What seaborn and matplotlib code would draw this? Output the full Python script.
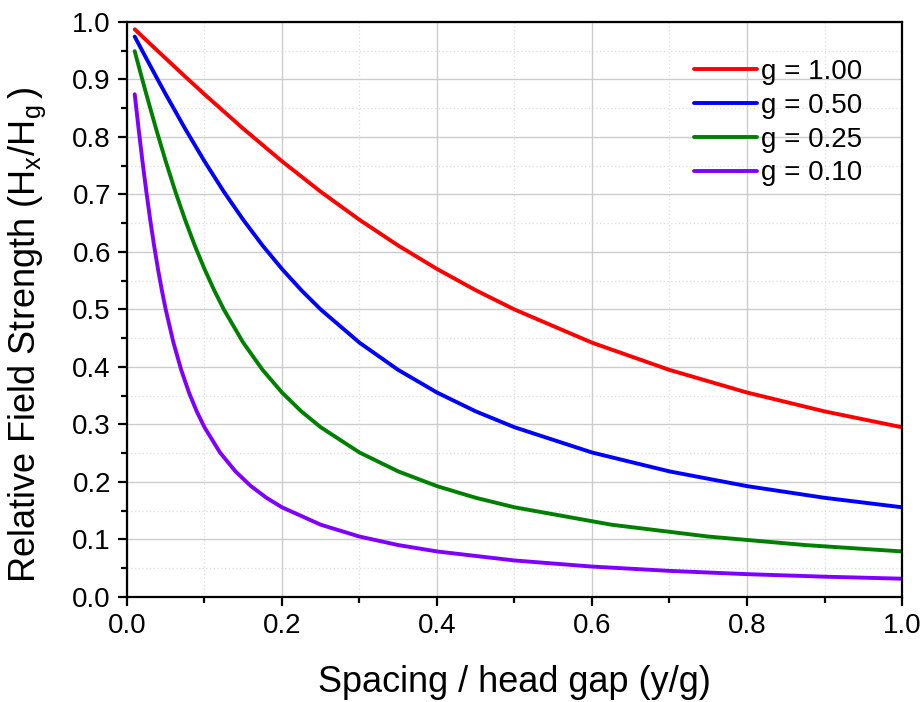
import numpy as np
import pandas as pd
import matplotlib
matplotlib.use("Agg")
import matplotlib.pyplot as plt
from matplotlib.ticker import MultipleLocator, FormatStrFormatter
import seaborn as sns

# Values: spacing / head gap (y/g) and relative field strength
x_g100 = [0.01, 0.02, 0.04, 0.06, 0.08, 0.10, 0.15, 0.20, 0.25, 0.30, 0.35, 0.40,
          0.45, 0.50, 0.60, 0.70, 0.80, 0.90, 1.00]
y_g100 = [0.9873, 0.9746, 0.9492, 0.9240, 0.8990, 0.8743, 0.8145, 0.7578, 0.7048,
          0.6560, 0.6112, 0.5705, 0.5335, 0.5000, 0.4423, 0.3949, 0.3556, 0.3228, 0.2952]

x_g050 = [0.01, 0.02, 0.03, 0.04, 0.05, 0.075, 0.10, 0.125, 0.15, 0.175, 0.20, 0.225,
          0.25, 0.30, 0.35, 0.40, 0.45, 0.50, 0.60, 0.70, 0.80, 0.90, 1.00]
y_g050 = [0.9746, 0.9492, 0.9240, 0.8990, 0.8743, 0.8145, 0.7578, 0.7048, 0.6560,
          0.6112, 0.5705, 0.5335, 0.5000, 0.4423, 0.3949, 0.3556, 0.3228, 0.2952,
          0.2513, 0.2184, 0.1928, 0.1725, 0.1560]

x_g025 = [0.01, 0.015, 0.02, 0.025, 0.0375, 0.05, 0.0625, 0.075, 0.0875, 0.10, 0.1125,
          0.125, 0.15, 0.175, 0.20, 0.225, 0.25, 0.30, 0.35, 0.40, 0.45, 0.50, 0.625,
          0.75, 0.875, 1.00]
y_g025 = [0.9492, 0.9240, 0.8990, 0.8743, 0.8145, 0.7578, 0.7048, 0.6560, 0.6112,
          0.5705, 0.5335, 0.5000, 0.4423, 0.3949, 0.3556, 0.3228, 0.2952, 0.2513,
          0.2184, 0.1928, 0.1725, 0.1560, 0.1257, 0.1051, 0.0903, 0.0792]

x_g010 = [0.01, 0.015, 0.02, 0.025, 0.03, 0.035, 0.04, 0.045, 0.05, 0.06, 0.07, 0.08,
          0.09, 0.10, 0.12, 0.14, 0.16, 0.18, 0.20, 0.25, 0.30, 0.35, 0.40, 0.50,
          0.60, 0.70, 0.80, 0.90, 1.00]
y_g010 = [0.8743, 0.8145, 0.7578, 0.7048, 0.6560, 0.6112, 0.5705, 0.5335, 0.5000,
          0.4423, 0.3949, 0.3556, 0.3228, 0.2952, 0.2513, 0.2184, 0.1928, 0.1725,
          0.1560, 0.1257, 0.1051, 0.0903, 0.0792, 0.0635, 0.0529, 0.0454, 0.0397,
          0.0353, 0.0318]

labels = ["g = 1.00", "g = 0.50", "g = 0.25", "g = 0.10"]
colors = ["#FF0000", "#0000FF", "#008000", "#8000FF"]

frames = []
for lab, xs, ys in zip(labels, [x_g100, x_g050, x_g025, x_g010],
                       [y_g100, y_g050, y_g025, y_g010]):
    frames.append(pd.DataFrame({"x": xs, "y": ys, "series": lab}))
df = pd.concat(frames, ignore_index=True)

sns.set_theme(style="white")
plt.rcParams["font.family"] = ["Liberation Sans", "DejaVu Sans"]
plt.rcParams["mathtext.fontset"] = "custom"
plt.rcParams["mathtext.rm"] = "Liberation Sans"
plt.rcParams["mathtext.it"] = "Liberation Sans"
plt.rcParams["mathtext.default"] = "regular"
plt.rcParams["text.color"] = "black"
plt.rcParams["axes.labelcolor"] = "black"
plt.rcParams["xtick.color"] = "black"
plt.rcParams["ytick.color"] = "black"

fig = plt.figure(figsize=(9.24, 7.02), dpi=100)
ax = fig.add_axes([0.1374, 0.1496, 0.8388, 0.8191])

sns.lineplot(data=df, x="x", y="y", hue="series", hue_order=labels,
             palette=colors, linewidth=2.8, ax=ax, sort=False, estimator=None)

ax.set_xlim(0, 1.0)
ax.set_ylim(0, 1.0)
ax.xaxis.set_major_locator(MultipleLocator(0.2))
ax.xaxis.set_minor_locator(MultipleLocator(0.1))
ax.yaxis.set_major_locator(MultipleLocator(0.1))
ax.yaxis.set_minor_locator(MultipleLocator(0.05))
ax.xaxis.set_major_formatter(FormatStrFormatter("%.1f"))
ax.yaxis.set_major_formatter(FormatStrFormatter("%.1f"))

ax.grid(which="major", color="#CCCCCC", linestyle="-", linewidth=1.0)
ax.grid(which="minor", color="#DDDDDD", linestyle=(0, (1, 2)), linewidth=0.9)
ax.set_axisbelow(True)

for s in ax.spines.values():
    s.set_color("black")
    s.set_linewidth(1.6)

ax.tick_params(which="major", direction="out", length=6.5, width=1.6,
               labelsize=20, bottom=True, left=True, top=False, right=False, pad=5)
ax.tick_params(which="minor", direction="out", length=4, width=1.6,
               bottom=True, left=True, top=False, right=False)

ax.set_xlabel("Spacing / head gap (y/g)", fontsize=26, labelpad=19)
ax.set_ylabel(r"Relative Field Strength (H$_x$/H$_g$$\,$)", fontsize=26)
ax.yaxis.set_label_coords(-0.102, 0.4565)

leg = ax.legend(loc="upper right", frameon=False, fontsize=20, handlelength=2.25,
                labelspacing=0.28, handletextpad=0.15, borderaxespad=0.0,
                bbox_to_anchor=(0.963, 0.955))
for line in leg.get_lines():
    line.set_linewidth(2.8)

fig.savefig("out.png", dpi=100)
